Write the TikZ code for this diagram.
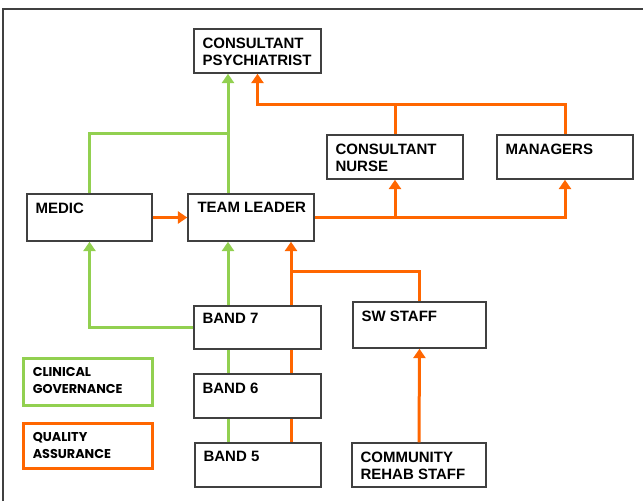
\documentclass[tikz,border=0pt]{standalone}
\usepackage{fontspec}
\setmainfont{Liberation Sans}
\newfontfamily\legendfont{Poppins}
\usetikzlibrary{arrows.meta,positioning,calc}
\definecolor{govgreen}{RGB}{146,208,80}
\definecolor{qaorange}{RGB}{255,102,0}
\definecolor{edge}{RGB}{64,64,64}
\tikzset{
  box/.style={draw=edge,line width=1.1pt,fill=white,inner sep=0pt},
  wh/.style 2 args={minimum width=#1*0.75pt,minimum height=#2*0.75pt},
  txt/.style={anchor=north west,align=left,inner sep=0pt,font=\bfseries\fontsize{11.25}{12.75}\selectfont},
  legtxt/.style={anchor=north west,align=left,inner sep=0pt,font=\legendfont\bfseries\fontsize{9.6}{12.75}\selectfont},
  cg/.style={draw=govgreen,line width=2.25pt},
  qa/.style={draw=qaorange,line width=2.25pt},
  arr/.style={-{Triangle[length=7pt,width=9pt]}}
}
\begin{document}
\begin{tikzpicture}[x=0.75pt,y=-0.75pt]
  \useasboundingbox (0,0) rectangle (643,501);
  \draw[edge,line width=1.5pt] (3,501) -- (3,8.5) -- (643,8.5);

  % boxes
  \node[box,wh={127}{44}] (psych) at (257.5,51) {};
  \node[box,wh={125}{47}] (medic) at (89.5,217.5) {};
  \node[box,wh={126}{47}] (lead) at (251,217.5) {};
  \node[box,wh={136}{44}] (cnurse) at (395,157) {};
  \node[box,wh={136}{44}] (mgrs) at (565,157) {};
  \node[box,wh={127}{43}] (band7) at (257.5,327.5) {};
  \node[box,wh={127}{44}] (band6) at (257.5,396) {};
  \node[box,wh={126}{44}] (band5) at (258,465) {};
  \node[box,wh={133}{46}] (sw) at (419.5,325) {};
  \node[box,wh={134}{44}] (rehab) at (419,465) {};
  \node[box,draw=govgreen,line width=2.25pt,wh={129}{47}] (clin) at (87.5,381.5) {};
  \node[box,draw=qaorange,line width=2.25pt,wh={129}{45}] (qual) at (87.5,445.5) {};

  % labels
  \node[txt] (psycht) at ([shift={(9,9)}]psych.north west) {CONSULTANT\\PSYCHIATRIST};
  \node[txt] (medict) at ([shift={(9,9)}]medic.north west) {MEDIC};
  \node[txt] (leadt) at ([shift={(10,9)}]lead.north west) {TEAM LEADER};
  \node[txt] (cnurset) at ([shift={(9,9)}]cnurse.north west) {CONSULTANT\\NURSE};
  \node[txt] (mgrst) at ([shift={(9,9)}]mgrs.north west) {MANAGERS};
  \node[txt] (band7t) at ([shift={(9,8)}]band7.north west) {BAND 7};
  \node[txt] (band6t) at ([shift={(9,9)}]band6.north west) {BAND 6};
  \node[txt] (band5t) at ([shift={(9,9)}]band5.north west) {BAND 5};
  \node[txt] (swt) at ([shift={(9,9)}]sw.north west) {SW STAFF};
  \node[txt] (rehabt) at ([shift={(9,9)}]rehab.north west) {COMMUNITY\\REHAB STAFF};
  \node[legtxt] (clint) at ([shift={(11,11)}]clin.north west) {CLINICAL\\GOVERNANCE};
  \node[legtxt] (qualt) at ([shift={(11,11)}]qual.north west) {QUALITY\\ASSURANCE};

  % clinical governance
  \coordinate (gx) at (228,0);
  \coordinate (gjoin) at (228,133);
  \draw[cg,arr] (lead.north -| gx) -- (psych.south -| gx);
  \draw[cg] (medic.north) |- (gjoin);
  \draw[cg,arr] (band7.north -| gx) -- (lead.south -| gx);
  \draw[cg,arr] (band7.west) -| (medic.south);
  \draw[cg] (band6.north -| gx) -- (band7.south -| gx);
  \draw[cg] (band5.north -| gx) -- (band6.south -| gx);

  % quality assurance
  \coordinate (qtop) at (257.5,104);
  \coordinate (ox) at (291,0);
  \coordinate (qjoin) at (291,271);
  \draw[qa,arr] (medic.east) -- (lead.west);
  \draw[qa,arr] (lead.east) -| (mgrs.south);
  \draw[qa,arr] (cnurse.south |- lead.east) -- (cnurse.south);
  \draw[qa,arr] (mgrs.north) |- (qtop) -- (psych.south);
  \draw[qa] (cnurse.north) -- (cnurse.north |- qtop);
  \draw[qa,arr] (band7.north -| ox) -- (lead.south -| ox);
  \draw[qa] (band6.north -| ox) -- (band7.south -| ox);
  \draw[qa] (band5.north -| ox) -- (band6.south -| ox);
  \draw[qa] (sw.north) |- (qjoin);
  \draw[qa,arr] (rehab.north) -- (sw.south);
\end{tikzpicture}
\end{document}
